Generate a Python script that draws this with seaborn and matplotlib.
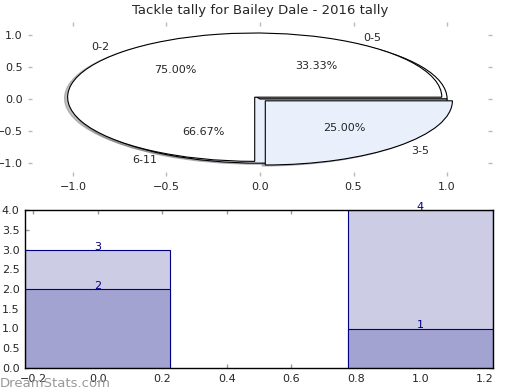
import seaborn as sns
import matplotlib.pyplot as plt
import pandas as pd

# Data
title = "Tackle tally for Bailey Dale - 2016 tally"
outer_labels = ["0-5", "6-11"]
outer_values = [1, 2]
inner_labels = ["0-2", "3-5"]
inner_values = [3, 1]
bar_x = [0, 1]
bar_low = [2, 1]
bar_total = [3, 4]

pie_colors = ["white", "#e9effb"]
light = "#ccccE4"
dark = "#a3a3d1"
navy = "#000080"

sns.set_theme(style="white")
plt.rcParams["font.family"] = ["DejaVu Sans"]

fig = plt.figure(figsize=(5.2, 3.9), dpi=100)
ax1 = fig.add_axes([28 / 520, 1 - 176 / 390, 464 / 520, 154 / 390])
ax2 = fig.add_axes([25 / 520, 1 - 368 / 390, 468 / 520, 158 / 390])

# Pie chart (two overlaid pies)
wedge_kw = dict(edgecolor="black", linewidth=0.8)
text_kw = dict(fontsize=8)
shadow_kw = dict(ox=-0.012, oy=-0.012, shade=0.5)
ax1.pie(outer_values, labels=outer_labels, colors=pie_colors, autopct="%.2f%%",
        shadow=shadow_kw, frame=True, wedgeprops=wedge_kw, textprops=text_kw)
ax1.pie(inner_values, labels=inner_labels, colors=pie_colors, autopct="%.2f%%",
        explode=[0.04, 0.04], shadow=shadow_kw, frame=True,
        wedgeprops=wedge_kw, textprops=text_kw)
ax1.set_aspect("auto")
ax1.set_xlim(-1.24, 1.24)
ax1.set_ylim(-1.2, 1.2)
ax1.set_xticks([-1.0, -0.5, 0.0, 0.5, 1.0])
ax1.set_yticks([-1.0, -0.5, 0.0, 0.5, 1.0])
for s in ax1.spines.values():
    s.set_visible(False)
ax1.tick_params(axis="both", which="both", direction="in", length=3, width=1,
                color="#bbbbbb", labelsize=8, top=True, right=True,
                bottom=True, left=True, pad=4)
ax1.set_title(title, fontsize=9.5, pad=6)

# Stacked bars
df = pd.DataFrame({"x": bar_x, "low": bar_low, "total": bar_total})
sns.barplot(data=df, x="x", y="total", native_scale=True, width=0.45,
            color=light, saturation=1, edgecolor=navy, linewidth=0.8, ax=ax2)
sns.barplot(data=df, x="x", y="low", native_scale=True, width=0.45,
            color=dark, saturation=1, edgecolor=navy, linewidth=0.8, ax=ax2)
for xi, lo, tot in zip(bar_x, bar_low, bar_total):
    ax2.text(xi, lo, str(lo), ha="center", va="baseline", color=navy, fontsize=8)
    ax2.text(xi, tot, str(tot), ha="center", va="baseline", color=navy, fontsize=8)
ax2.set_xlim(-0.225, 1.225)
ax2.set_ylim(0, 4)
ax2.set_xticks([-0.2, 0.0, 0.2, 0.4, 0.6, 0.8, 1.0, 1.2])
ax2.set_xticklabels(["\u22120.2", "0.0", "0.2", "0.4", "0.6", "0.8", "1.0", "1.2"])
ax2.set_yticks([0, 0.5, 1.0, 1.5, 2.0, 2.5, 3.0, 3.5, 4.0])
ax2.yaxis.set_major_formatter(plt.FormatStrFormatter("%.1f"))
ax2.set_xlabel("")
ax2.set_ylabel("")
for s in ax2.spines.values():
    s.set_visible(True)
    s.set_color("black")
    s.set_linewidth(1)
ax2.tick_params(axis="both", which="both", direction="in", length=3, width=1,
                color="#999999", labelsize=8, top=True, right=True,
                bottom=True, left=True, pad=4)

# Watermark
fig.text(0.0, 0.0, "DreamStats.com", fontsize=9.5, color="#999999",
         ha="left", va="bottom")

fig.savefig("out.png", dpi=100)
